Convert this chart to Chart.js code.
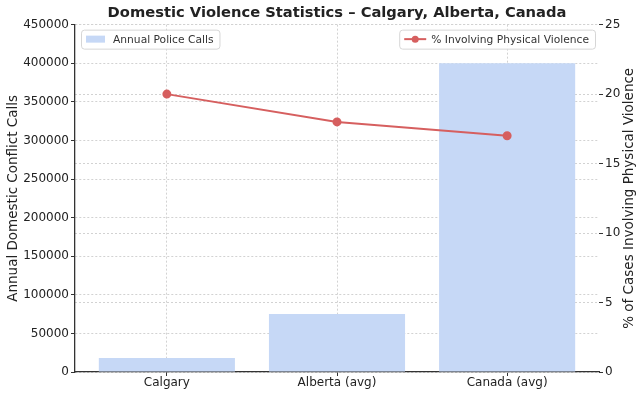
<!DOCTYPE html>
<html>
<head>
<meta charset="utf-8">
<script src="https://cdn.jsdelivr.net/npm/chart.js@4.4.1/dist/chart.umd.min.js"></script>
<style>
  body { margin: 0; background: #fff; }
  #wrap { width: 643px; height: 396px; }
</style>
</head>
<body>
<div id="wrap"><canvas id="chart" width="643" height="396"></canvas></div>
<script>
const regions = ['Calgary', 'Alberta (avg)', 'Canada (avg)'];
const policeCalls = [18000, 75000, 400000];
const physicalPct = [20, 18, 17];

const barColor = '#c6d8f6';
const lineColor = '#d65f5f';
const font = 'DejaVu Sans';
const gridColor = '#d2d2d2';

// x as a linear axis so the side margins work like matplotlib's bar margins
const xPad = 0.54;

// two matplotlib-style legend boxes inside the plot + right axis title (bottom-to-top)
const extras = {
  id: 'extras',
  afterDraw(chart) {
    const { ctx, chartArea } = chart;
    ctx.save();
    ctx.font = '10.7px ' + font;
    ctx.textBaseline = 'middle';
    const h = 19, top = chartArea.top + 5;

    // left: bars
    let txt = 'Annual Police Calls';
    let w = 33 + ctx.measureText(txt).width + 5;
    let x = chartArea.left + 6;
    ctx.fillStyle = 'rgba(255,255,255,0.85)';
    ctx.strokeStyle = '#d6d6d6';
    ctx.lineWidth = 1;
    ctx.beginPath(); ctx.roundRect(x + 0.5, top + 0.5, w, h, 3); ctx.fill(); ctx.stroke();
    ctx.fillStyle = barColor;
    ctx.fillRect(x + 5, top + 6, 19, 7);
    ctx.fillStyle = '#333';
    ctx.fillText(txt, x + 32, top + h / 2 + 1);

    // right: line
    txt = '% Involving Physical Violence';
    w = 33 + ctx.measureText(txt).width + 5;
    x = chartArea.right - 4 - w;
    ctx.fillStyle = 'rgba(255,255,255,0.85)';
    ctx.beginPath(); ctx.roundRect(x + 0.5, top + 0.5, w, h, 3); ctx.fill(); ctx.stroke();
    ctx.strokeStyle = lineColor; ctx.lineWidth = 2;
    ctx.beginPath(); ctx.moveTo(x + 5, top + h / 2); ctx.lineTo(x + 27, top + h / 2); ctx.stroke();
    ctx.fillStyle = lineColor;
    ctx.beginPath(); ctx.arc(x + 16, top + h / 2, 3.5, 0, Math.PI * 2); ctx.fill();
    ctx.fillStyle = '#333';
    ctx.fillText(txt, x + 32, top + h / 2 + 1);

    // right axis title
    ctx.font = '13.5px ' + font;
    ctx.fillStyle = '#222';
    ctx.textAlign = 'center';
    ctx.translate(629, (chartArea.top + chartArea.bottom) / 2);
    ctx.rotate(-Math.PI / 2);
    ctx.fillText('% of Cases Involving Physical Violence', 0, 0);
    ctx.restore();
  }
};

new Chart(document.getElementById('chart'), {
  data: {
    datasets: [
      {
        type: 'line',
        label: '% Involving Physical Violence',
        data: physicalPct.map((v, i) => ({ x: i, y: v })),
        yAxisID: 'y1',
        borderColor: lineColor,
        backgroundColor: lineColor,
        borderWidth: 2,
        pointRadius: 3.5,
        pointHoverRadius: 3.5,
        order: 0
      },
      {
        type: 'bar',
        label: 'Annual Police Calls',
        data: policeCalls.map((v, i) => ({ x: i, y: v })),
        yAxisID: 'y',
        backgroundColor: barColor,
        categoryPercentage: 0.8,
        barPercentage: 1.0,
        order: 1
      }
    ]
  },
  options: {
    responsive: false,
    animation: false,
    layout: { padding: 0 },
    plugins: {
      legend: { display: false },
      tooltip: { enabled: false },
      title: {
        display: true,
        fullSize: false,
        text: 'Domestic Violence Statistics – Calgary, Alberta, Canada',
        color: '#222',
        font: { family: font, size: 14.7, weight: 'bold' },
        padding: { top: 4, bottom: 3 }
      }
    },
    scales: {
      x: {
        type: 'linear',
        offset: false,
        min: -xPad,
        max: regions.length - 1 + xPad,
        grid: { offset: false, color: gridColor, tickColor: '#333', tickLength: 4 },
        border: { color: '#333', width: 1.3, dash: [2, 2] },
        ticks: {
          stepSize: 1,
          includeBounds: false,
          color: '#222',
          font: { family: font, size: 12 },
          padding: 0,
          callback: (v) => regions[v]
        },
        afterFit(s) { s.height = 24; }
      },
      y: {
        position: 'left',
        min: 0, max: 450000,
        ticks: {
          stepSize: 50000,
          color: '#222',
          font: { family: font, size: 12 },
          padding: 2,
          callback: (v) => String(v)
        },
        grid: { color: gridColor, tickColor: '#333', tickLength: 4 },
        border: { color: '#333', width: 1.3, dash: [2, 2] },
        title: { display: true, text: 'Annual Domestic Conflict Calls', color: '#222', font: { family: font, size: 13.5 }, padding: { top: 5, bottom: 0 } },
        afterFit(s) { s.width = 75; }
      },
      y1: {
        position: 'right',
        min: 0, max: 25,
        ticks: {
          stepSize: 5,
          color: '#222',
          font: { family: font, size: 12 },
          padding: 2,
          callback: (v) => String(v)
        },
        grid: { color: gridColor, tickColor: '#333', tickLength: 4 },
        border: { display: false, dash: [2, 2] },
        afterFit(s) { s.width = 44; }
      }
    }
  },
  plugins: [extras]
});
</script>
</body>
</html>
